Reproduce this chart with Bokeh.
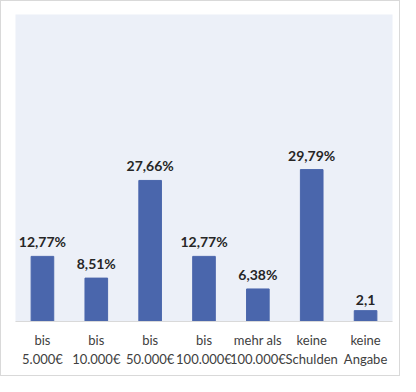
from bokeh.plotting import figure
from bokeh.models import ColumnDataSource, FixedTicker, Range1d, LinearAxis
from bokeh.core.properties import value
from bokeh.embed import file_html
from bokeh.resources import INLINE

line1 = ["bis", "bis", "bis", "bis", "mehr als", "keine", "keine"]
line2 = ["5.000€", "10.000€", "50.000€", "100.000€", "100.000€", "Schulden", "Angabe"]
values = [12.77, 8.51, 27.66, 12.77, 6.38, 29.79, 2.13]
labels = ["12,77%", "8,51%", "27,66%", "12,77%", "6,38%", "29,79%", "2,1"]

xs = [i + 0.5 for i in range(len(line1))]
src = ColumnDataSource(dict(x=xs, top=values, label=labels))

p = figure(width=400, height=376, output_backend="svg", toolbar_location=None,
           x_range=Range1d(0, len(line1)), y_range=Range1d(0, 60.2),
           min_border_left=14, min_border_right=9, min_border_top=13, min_border_bottom=56)
p.styles = {"border": "1px solid #d9d9d9", "box-sizing": "border-box"}
p.background_fill_color = "#ECF0F8"
p.border_fill_color = "white"
p.outline_line_color = None
p.xgrid.visible = False
p.ygrid.visible = False
p.yaxis.visible = False

p.vbar(x="x", top="top", width=0.42, bottom=0, source=src, color="#4A66AC")
p.text(x="x", y="top", text="label", source=src, y_offset=-6,
       text_align="center", text_baseline="bottom", text_font=value("Lato"),
       text_font_style="bold", text_font_size="14px", text_color="#262626")


def style(ax, texts, standoff, line_color):
    ax.ticker = FixedTicker(ticks=xs)
    ax.major_label_overrides = {x: t for x, t in zip(xs, texts)}
    ax.major_label_text_font = "Lato"
    ax.major_label_text_font_size = "13px"
    ax.major_label_text_color = "#404040"
    ax.major_label_standoff = standoff
    ax.major_tick_line_color = None
    ax.minor_tick_line_color = None
    ax.axis_line_color = line_color


style(p.xaxis[0], line1, 4, "#D9D9D9")
ax2 = LinearAxis()
style(ax2, line2, -6, None)
p.add_layout(ax2, "below")

open("out.html", "w").write(file_html(p, INLINE))
